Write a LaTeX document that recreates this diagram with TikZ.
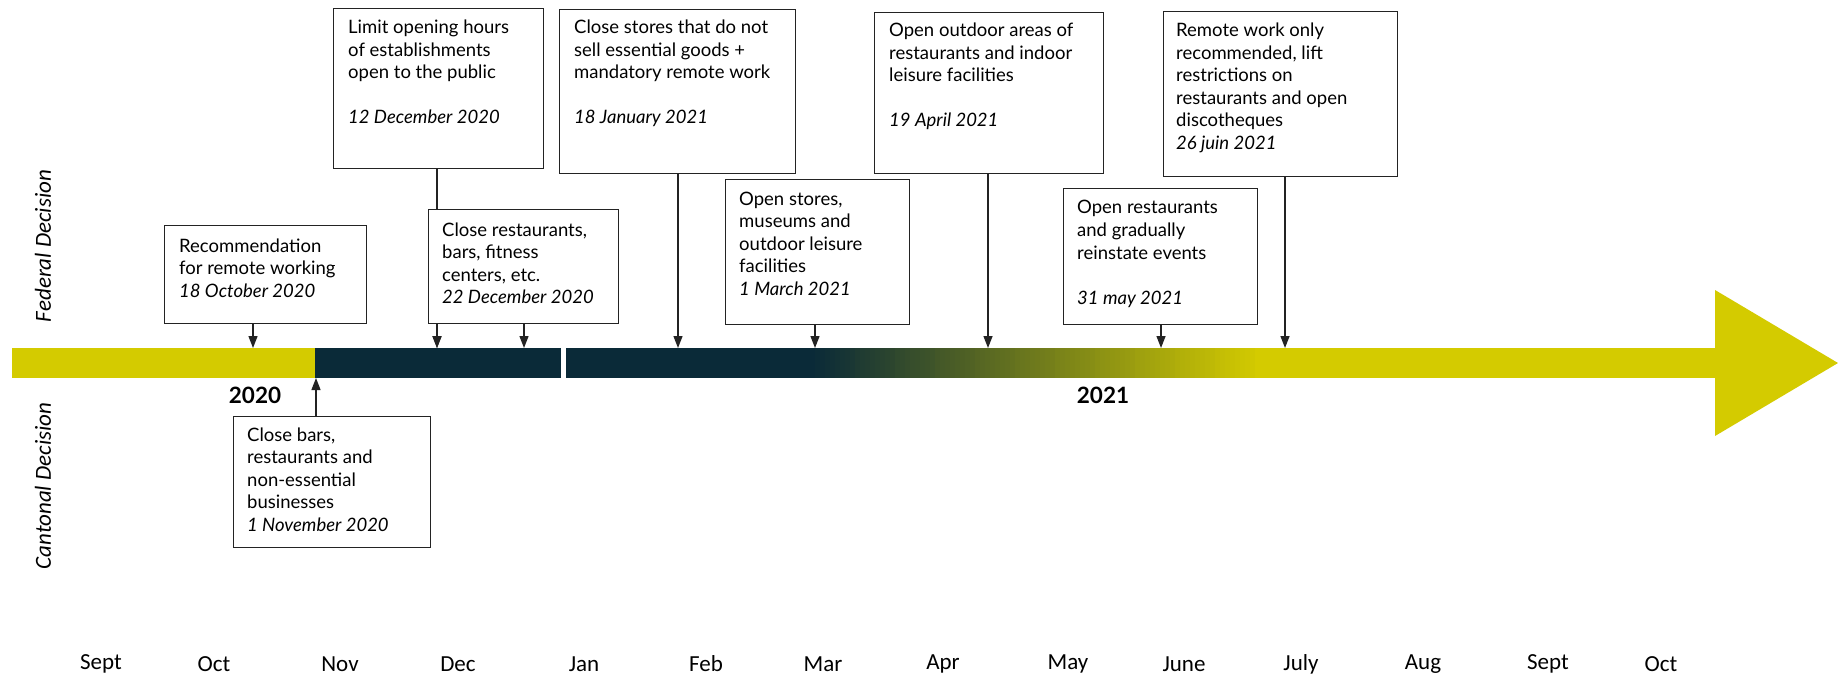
\documentclass[tikz,border=0pt]{standalone}
\usepackage{fontspec}
\setmainfont{Lato}
\newfontfamily\calfont{Carlito}
\usetikzlibrary{arrows.meta}
\definecolor{tyellow}{RGB}{212,203,0}
\definecolor{tnavy}{RGB}{10,42,56}
\definecolor{tline}{RGB}{35,35,35}
\newcommand{\evtext}[1]{\parbox[t]{300pt}{\raggedright\fontsize{18.5}{22.5}\selectfont #1}}
\begin{document}
\begin{tikzpicture}[x=1pt,y=-1pt,
  evbox/.style={draw=tline, line width=1.3pt, fill=white, inner sep=0pt, anchor=north west},
  evtxt/.style={inner sep=0pt, anchor=base west, text=black},
  conn/.style={draw=tline, line width=1.3pt, -{Triangle[length=12pt,width=9pt]}},
  month/.style={font=\calfont\fontsize{23}{27}\selectfont, text=black},
  year/.style={font=\bfseries\fontsize{22.5}{26}\selectfont, text=black},
  side/.style={font=\calfont\itshape\fontsize{23}{27}\selectfont, rotate=90, text=black}
]
\useasboundingbox[fill=white] (0,0) rectangle (1838,679);

% timeline bar
\fill[tyellow] (12,348) rectangle (315,378);
\fill[tnavy] (315,348) rectangle (561,378);
\fill[tnavy] (566,348) rectangle (811,378);
\foreach \k in {0,...,89} {
  \pgfmathtruncatemacro{\pct}{100*\k/89}
  \fill[tyellow!\pct!tnavy] (810+5*\k,348) rectangle (816+5*\k,378);
}
\fill[tyellow] (1259,348) rectangle (1716,378);
\fill[tyellow] (1715,290) -- (1838,363) -- (1715,436) -- cycle;

% anchor points on the bar
\coordinate (pA) at (253,348);
\coordinate (pB) at (437,348);
\coordinate (pC) at (524,348);
\coordinate (pD) at (678,348);
\coordinate (pE) at (815,348);
\coordinate (pF) at (988,348);
\coordinate (pG) at (1161,348);
\coordinate (pH) at (1285,348);
\coordinate (pI) at (316,378);

% boxes
\node[evbox, minimum width=202pt, minimum height=98pt] (A) at (164,225) {};
\node[evbox, minimum width=210pt, minimum height=160pt] (B) at (333,8) {};
\node[evbox, minimum width=236pt, minimum height=164pt] (D) at (559,9) {};
\node[evbox, minimum width=184pt, minimum height=145pt] (E) at (725,179) {};
\node[evbox, minimum width=229pt, minimum height=161pt] (F) at (874,12) {};
\node[evbox, minimum width=194pt, minimum height=136pt] (G) at (1063,188) {};
\node[evbox, minimum width=234pt, minimum height=165pt] (H) at (1163,11) {};
\node[evbox, minimum width=197pt, minimum height=131pt] (I) at (233,416) {};

% connectors
\draw[conn] (pA |- A.south) -- (pA);
\draw[conn] (pB |- B.south) -- (pB);
\draw[conn] (pD |- D.south) -- (pD);
\draw[conn] (pE |- E.south) -- (pE);
\draw[conn] (pF |- F.south) -- (pF);
\draw[conn] (pG |- G.south) -- (pG);
\draw[conn] (pH |- H.south) -- (pH);
\draw[conn] (pI |- I.north) -- (pI);

% box C drawn over the line from B
\node[evbox, minimum width=190pt, minimum height=114pt] (C) at (428,209) {};
\draw[conn] (pC |- C.south) -- (pC);
\draw[conn] (pB |- C.south) -- (pB);

% texts
\node[evtxt] (At) at (179,252) {\evtext{Recommendation\\for remote working\\\textit{18 October 2020}}};
\node[evtxt] (Bt) at (348,34) {\evtext{Limit opening hours\\of establishments\\open to the public\\[22.5pt]\textit{12 December 2020}}};
\node[evtxt] (Ct) at (442,236) {\evtext{Close restaurants,\\bars, fitness\\centers, etc.\\\textit{22 December 2020}}};
\node[evtxt] (Dt) at (574,34) {\evtext{Close stores that do not\\sell essential goods +\\mandatory remote work\\[22.5pt]\textit{18 January 2021}}};
\node[evtxt] (Et) at (739,205) {\evtext{Open stores,\\museums and\\outdoor leisure\\facilities\\\textit{1 March 2021}}};
\node[evtxt] (Ft) at (889,37) {\evtext{Open outdoor areas of\\restaurants and indoor\\leisure facilities\\[22.5pt]\textit{19 April 2021}}};
\node[evtxt] (Gt) at (1077,214) {\evtext{Open restaurants\\and gradually\\reinstate events\\[22.5pt]\textit{31 may 2021}}};
\node[evtxt] (Ht) at (1176,37) {\evtext{Remote work only\\recommended, lift\\restrictions on\\restaurants and open\\discotheques\\\textit{26 juin 2021}}};
\node[evtxt] (It) at (247,441) {\evtext{Close bars,\\restaurants and\\non-essential\\businesses\\\textit{1 November 2020}}};

% years
\node[year] (y20) at (255,395) {2020};
\node[year] (y21) at (1103,395) {2021};

% side labels
\node[side] (fed) at (43,246) {Federal Decision};
\node[side] (can) at (43,486) {Cantonal Decision};

% months
\foreach \m/\xx [count=\i] in {Sept/101, Oct/214, Nov/340, Dec/458, Jan/584, Feb/706, Mar/823, Apr/943, May/1068, June/1184, July/1301, Aug/1423, Sept/1548, Oct/1661}
  \node[month] (m\i) at (\xx,664) {\m};
\end{tikzpicture}
\end{document}
